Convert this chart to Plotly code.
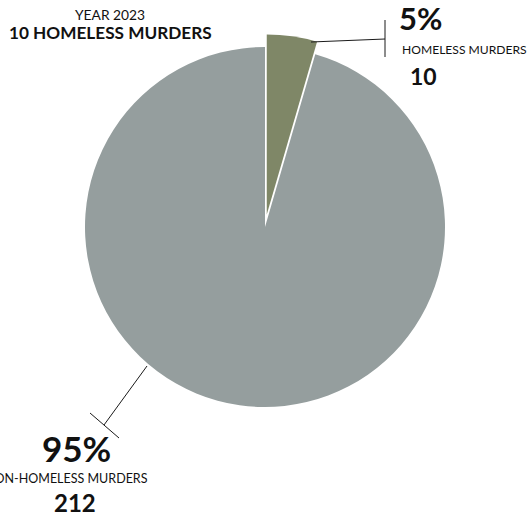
import plotly.graph_objects as go

W, H = 527, 517

# ---- data ----
categories = ["HOMELESS MURDERS", "NON-HOMELESS MURDERS"]
values = [10, 212]
percent_labels = ["5%", "95%"]
count_labels = ["10", "212"]
year_label = "YEAR 2023"
title_label = "10 HOMELESS MURDERS"

colors = ["#7f8767", "#959e9e"]

def px(x):
    return x / W

def py(y):
    return 1 - y / H

# pie geometry (pixels)
cx, cy, r, pull = 265, 227, 180, 0.07
half = r * (1 + pull)

fig = go.Figure(go.Pie(
    labels=categories,
    values=values,
    sort=False,
    direction="clockwise",
    rotation=0,
    pull=[pull, 0],
    marker=dict(colors=colors, line=dict(width=0)),
    textinfo="none",
    hoverinfo="label+value+percent",
    showlegend=False,
    domain=dict(x=[px(cx - half), px(cx + half)],
                y=[py(cy + half), py(cy - half)]),
))

font = "Lato, 'Open Sans', sans-serif"
ink = "#111111"

ann = []
def add(text, x, y, size, xanchor="center", weight=400):
    ann.append(dict(
        text=text, x=px(x), y=py(y), xref="paper", yref="paper",
        xanchor=xanchor, yanchor="middle", showarrow=False,
        font=dict(family=font, size=size, color=ink, weight=weight),
    ))

add(year_label, 110, 14, 13.8, weight=400)
add(title_label, 110, 33, 17.2, weight=700)

add(percent_labels[0], 420, 18, 31, weight=700)
add(categories[0], 400, 49, 12.1, xanchor="left", weight=400)
add(count_labels[0], 423, 76, 23, weight=700)

add(percent_labels[1], 76, 448, 35, weight=700)
add(categories[1], 150, 478, 12.5, xanchor="right", weight=400)
add(count_labels[1], 75, 502, 24, weight=700)

line = dict(color="#1a1a1a", width=1)
shapes = [
    # 5% leader
    dict(type="line", xref="paper", yref="paper",
         x0=px(311), y0=py(42), x1=px(385), y1=py(39), line=line),
    dict(type="line", xref="paper", yref="paper",
         x0=px(385), y0=py(20), x1=px(385), y1=py(57), line=line),
    # 95% leader
    dict(type="line", xref="paper", yref="paper",
         x0=px(147), y0=py(366), x1=px(104), y1=py(425), line=line),
    dict(type="line", xref="paper", yref="paper",
         x0=px(90), y0=py(413), x1=px(119), y1=py(438), line=line),
]

fig.update_layout(
    width=W, height=H,
    margin=dict(l=0, r=0, t=0, b=0),
    paper_bgcolor="white",
    plot_bgcolor="white",
    annotations=ann,
    shapes=shapes,
)

fig.write_html(
    "out.html",
    config={"displayModeBar": False},
    post_script="document.body.style.margin='0';document.body.style.overflow='hidden';",
)
